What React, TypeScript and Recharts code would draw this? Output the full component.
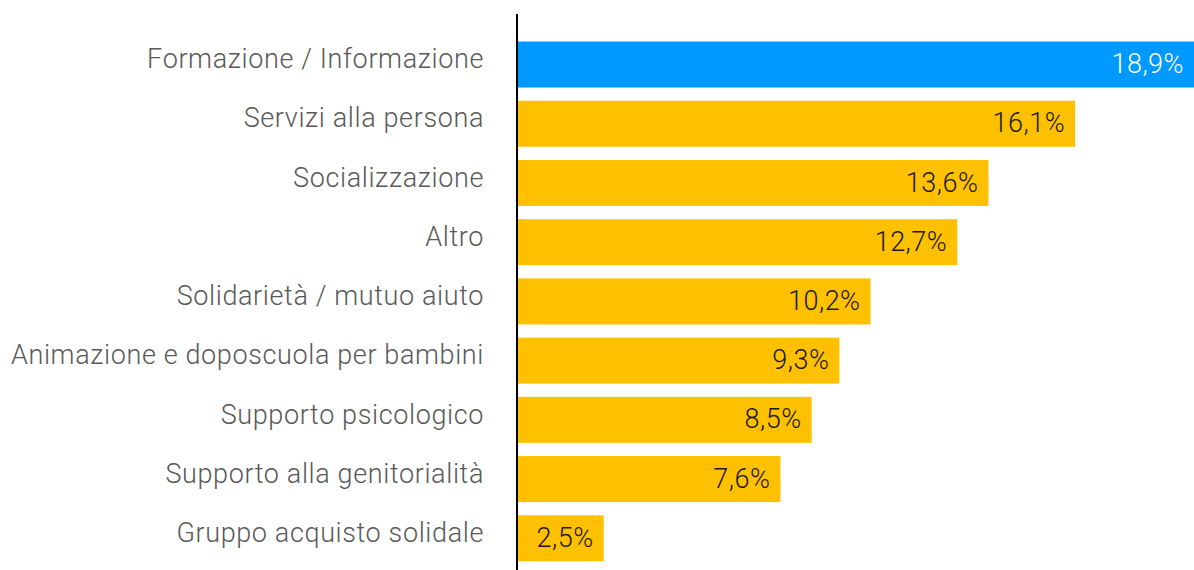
import React from "react";
import { BarChart, Bar, XAxis, YAxis, Cell } from "recharts";

const categories = [
  "Formazione / Informazione",
  "Servizi alla persona",
  "Socializzazione",
  "Altro",
  "Solidarietà / mutuo aiuto",
  "Animazione e doposcuola per bambini",
  "Supporto psicologico",
  "Supporto alla genitorialità",
  "Gruppo acquisto solidale",
];
const values = [18.9, 16.1, 13.6, 12.7, 10.2, 9.3, 8.5, 7.6, 2.5];
const highlightIndex = 0;

const data = categories.map((name, i) => ({ name, value: values[i] }));

const FONT = "Roboto, 'DejaVu Sans', sans-serif";
const fmt = (v: number) => v.toFixed(1).replace(".", ",") + "%";

const CategoryTick = (props: any) => {
  const { x, y, payload } = props;
  return (
    <text
      x={x}
      y={y - 6}
      dy="0.355em"
      textAnchor="end"
      fill="#595959"
      fontFamily={FONT}
      fontWeight={300}
      fontSize={27}
      letterSpacing={0.62}
    >
      {payload.value}
    </text>
  );
};

const BarShape = (props: any) => {
  const { x, y, width, height, index, value, background } = props;
  const hi = index === highlightIndex;
  let w = width;
  if (hi && background) {
    w = background.x + background.width - x;
  }
  const v = Array.isArray(value) ? value[1] - value[0] : value;
  return (
    <g>
      <rect x={x} y={y} width={w} height={height} fill={hi ? "#0099FF" : "#FFC000"} />
      <text
        x={x + w - 10}
        y={y + height / 2 - 1}
        dy="0.355em"
        textAnchor="end"
        fill={hi ? "#FFFFFF" : "#1A1A1A"}
        fontFamily={FONT}
        fontWeight={300}
        fontSize={27}
        letterSpacing={0.5}
      >
        {fmt(v)}
      </text>
    </g>
  );
};

export default function App() {
  return (
    <div style={{ position: "absolute", left: 0, top: 0, width: 1194, height: 570, background: "#fff" }}>
      <BarChart
        width={1194}
        height={570}
        data={data}
        layout="vertical"
        margin={{ top: 14, right: 0, bottom: 0, left: 0 }}
        barCategoryGap="11%"
      >
        <XAxis type="number" domain={[0, 19.53]} hide allowDataOverflow />
        <YAxis
          type="category"
          dataKey="name"
          width={517}
          axisLine={{ stroke: "#000", strokeWidth: 2 }}
          tickLine={false}
          tickSize={0}
          tickMargin={33}
          padding={{ top: 21, bottom: 2 }}
          tick={<CategoryTick />}
          interval={0}
        />
        <Bar
          dataKey="value"
          isAnimationActive={false}
          background={{ fill: "transparent" }}
          shape={<BarShape />}
        >
          {data.map((d, i) => (
            <Cell key={d.name} fill={i === highlightIndex ? "#0099FF" : "#FFC000"} />
          ))}
        </Bar>
      </BarChart>
    </div>
  );
}
